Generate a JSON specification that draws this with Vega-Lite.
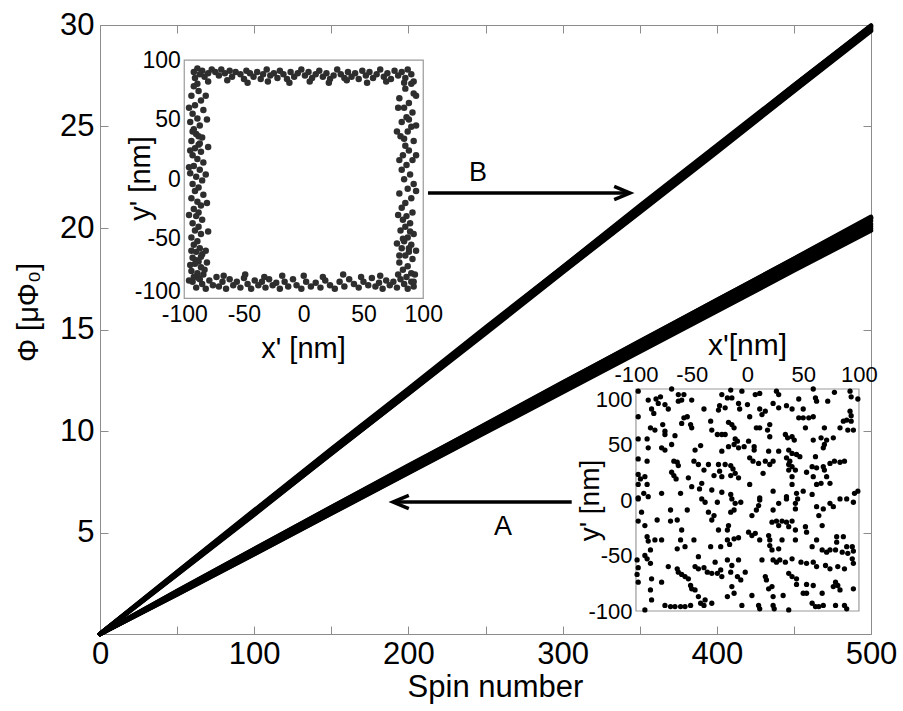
{
  "$schema": "https://vega.github.io/schema/vega-lite/v6.json",
  "width": 771,
  "height": 609,
  "autosize": {"type": "none"},
  "padding": {"left": 100, "top": 25, "right": 32, "bottom": 77},
  "background": "white",
  "config": {
    "font": "Liberation Sans",
    "view": {"stroke": "#8c8c8c", "strokeWidth": 1},
    "axis": {"labelColor": "black", "titleColor": "black", "titleFontWeight": "normal", "grid": false, "labelFont": "Liberation Sans", "titleFont": "Liberation Sans", "labelOverlap": false, "labelFlush": false}
  },
  "layer": [
    {
      "layer": [
        {
          "data": {"values": [
            {"g":"B1","s":0,"p":0},{"g":"B1","s":50,"p":3.04},{"g":"B1","s":100,"p":6.06},{"g":"B1","s":150,"p":9.07},{"g":"B1","s":200,"p":12.03},{"g":"B1","s":250,"p":15.04},{"g":"B1","s":300,"p":18.06},{"g":"B1","s":350,"p":21.03},{"g":"B1","s":400,"p":24.0},{"g":"B1","s":450,"p":27.02},{"g":"B1","s":500,"p":29.95},
            {"g":"B2","s":0,"p":0},{"g":"B2","s":50,"p":2.95},{"g":"B2","s":100,"p":5.91},{"g":"B2","s":150,"p":8.88},{"g":"B2","s":200,"p":11.85},{"g":"B2","s":250,"p":14.87},{"g":"B2","s":300,"p":17.84},{"g":"B2","s":350,"p":20.8},{"g":"B2","s":400,"p":23.8},{"g":"B2","s":450,"p":26.76},{"g":"B2","s":500,"p":29.76},
            {"g":"B3","s":0,"p":0},{"g":"B3","s":50,"p":3.01},{"g":"B3","s":100,"p":5.96},{"g":"B3","s":150,"p":9.0},{"g":"B3","s":200,"p":11.97},{"g":"B3","s":250,"p":14.99},{"g":"B3","s":300,"p":17.96},{"g":"B3","s":350,"p":20.92},{"g":"B3","s":400,"p":23.95},{"g":"B3","s":450,"p":26.93},{"g":"B3","s":500,"p":29.9},
            {"g":"B4","s":0,"p":0},{"g":"B4","s":50,"p":2.93},{"g":"B4","s":100,"p":5.88},{"g":"B4","s":150,"p":8.89},{"g":"B4","s":200,"p":11.84},{"g":"B4","s":250,"p":14.8},{"g":"B4","s":300,"p":17.81},{"g":"B4","s":350,"p":20.77},{"g":"B4","s":400,"p":23.73},{"g":"B4","s":450,"p":26.74},{"g":"B4","s":500,"p":29.7},
            {"g":"B5","s":0,"p":0},{"g":"B5","s":50,"p":3.06},{"g":"B5","s":100,"p":6.09},{"g":"B5","s":150,"p":9.11},{"g":"B5","s":200,"p":12.08},{"g":"B5","s":250,"p":15.1},{"g":"B5","s":300,"p":18.07},{"g":"B5","s":350,"p":21.09},{"g":"B5","s":400,"p":24.06},{"g":"B5","s":450,"p":27.03},{"g":"B5","s":500,"p":29.98},
            {"g":"B6","s":0,"p":0},{"g":"B6","s":50,"p":2.97},{"g":"B6","s":100,"p":6.01},{"g":"B6","s":150,"p":8.94},{"g":"B6","s":200,"p":11.91},{"g":"B6","s":250,"p":14.93},{"g":"B6","s":300,"p":17.88},{"g":"B6","s":350,"p":20.89},{"g":"B6","s":400,"p":23.85},{"g":"B6","s":450,"p":26.86},{"g":"B6","s":500,"p":29.82},
            {"g":"A1","s":0,"p":0},{"g":"A1","s":50,"p":2.12},{"g":"A1","s":100,"p":4.19},{"g":"A1","s":150,"p":6.24},{"g":"A1","s":200,"p":8.3},{"g":"A1","s":250,"p":10.31},{"g":"A1","s":300,"p":12.37},{"g":"A1","s":350,"p":14.42},{"g":"A1","s":400,"p":16.44},{"g":"A1","s":450,"p":18.49},{"g":"A1","s":500,"p":20.55},
            {"g":"A2","s":0,"p":0},{"g":"A2","s":50,"p":1.96},{"g":"A2","s":100,"p":3.94},{"g":"A2","s":150,"p":5.95},{"g":"A2","s":200,"p":7.96},{"g":"A2","s":250,"p":9.96},{"g":"A2","s":300,"p":11.97},{"g":"A2","s":350,"p":13.97},{"g":"A2","s":400,"p":15.98},{"g":"A2","s":450,"p":17.98},{"g":"A2","s":500,"p":19.97},
            {"g":"A3","s":0,"p":0},{"g":"A3","s":50,"p":2.08},{"g":"A3","s":100,"p":4.15},{"g":"A3","s":150,"p":6.15},{"g":"A3","s":200,"p":8.22},{"g":"A3","s":250,"p":10.28},{"g":"A3","s":300,"p":12.29},{"g":"A3","s":350,"p":14.36},{"g":"A3","s":400,"p":16.36},{"g":"A3","s":450,"p":18.43},{"g":"A3","s":500,"p":20.46},
            {"g":"A4","s":0,"p":0},{"g":"A4","s":50,"p":2.0},{"g":"A4","s":100,"p":4.0},{"g":"A4","s":150,"p":5.99},{"g":"A4","s":200,"p":8.04},{"g":"A4","s":250,"p":10.03},{"g":"A4","s":300,"p":12.03},{"g":"A4","s":350,"p":14.08},{"g":"A4","s":400,"p":16.07},{"g":"A4","s":450,"p":18.07},{"g":"A4","s":500,"p":20.08},
            {"g":"A5","s":0,"p":0},{"g":"A5","s":50,"p":2.05},{"g":"A5","s":100,"p":4.06},{"g":"A5","s":150,"p":6.13},{"g":"A5","s":200,"p":8.15},{"g":"A5","s":250,"p":10.22},{"g":"A5","s":300,"p":12.23},{"g":"A5","s":350,"p":14.3},{"g":"A5","s":400,"p":16.3},{"g":"A5","s":450,"p":18.35},{"g":"A5","s":500,"p":20.35},
            {"g":"A6","s":0,"p":0},{"g":"A6","s":50,"p":1.95},{"g":"A6","s":100,"p":3.93},{"g":"A6","s":150,"p":5.93},{"g":"A6","s":200,"p":7.93},{"g":"A6","s":250,"p":9.92},{"g":"A6","s":300,"p":11.91},{"g":"A6","s":350,"p":13.9},{"g":"A6","s":400,"p":15.9},{"g":"A6","s":450,"p":17.9},{"g":"A6","s":500,"p":19.88},
            {"g":"A7","s":0,"p":0},{"g":"A7","s":50,"p":2.11},{"g":"A7","s":100,"p":4.18},{"g":"A7","s":150,"p":6.25},{"g":"A7","s":200,"p":8.26},{"g":"A7","s":250,"p":10.33},{"g":"A7","s":300,"p":12.39},{"g":"A7","s":350,"p":14.4},{"g":"A7","s":400,"p":16.45},{"g":"A7","s":450,"p":18.47},{"g":"A7","s":500,"p":20.5},
            {"g":"A8","s":0,"p":0},{"g":"A8","s":50,"p":1.98},{"g":"A8","s":100,"p":4.04},{"g":"A8","s":150,"p":6.02},{"g":"A8","s":200,"p":8.01},{"g":"A8","s":250,"p":10.06},{"g":"A8","s":300,"p":12.12},{"g":"A8","s":350,"p":14.11},{"g":"A8","s":400,"p":16.16},{"g":"A8","s":450,"p":18.15},{"g":"A8","s":500,"p":20.2}
          ]},
          "mark": {"type": "line", "color": "black", "strokeWidth": 4.5, "strokeCap": "round"},
          "encoding": {
            "x": {"field": "s", "type": "quantitative", "scale": {"domain": [0, 500], "nice": false, "zero": false},
              "axis": {"orient": "bottom", "values": [0,50,100,150,200,250,300,350,400,450,500], "labelExpr": "datum.value % 100 === 0 ? datum.label : ''", "tickSize": -8, "tickColor": "#8c8c8c", "domain": false, "labelFontSize": 31, "labelPadding": 13, "title": "Spin number", "titleFontSize": 31, "titleX": 395, "titleY": 62, "titleBaseline": "alphabetic", "titleAlign": "center"}},
            "y": {"field": "p", "type": "quantitative", "scale": {"domain": [0, 30], "nice": false, "zero": false},
              "axis": {"orient": "left", "values": [0,5,10,15,20,25,30], "labelExpr": "datum.value === 0 ? '' : datum.label", "tickSize": -8, "tickColor": "#8c8c8c", "domain": false, "labelFontSize": 31, "labelPadding": 14, "title": "Φ [μΦ₀]", "titleFontSize": 29, "titleX": -72, "titleY": 287, "titleBaseline": "middle", "titleAlign": "center", "titleAngle": -90}},
            "detail": {"field": "g", "type": "nominal"}
          }
        },
        {
          "data": {"values": [
            {"label": "B", "xs": 212.7, "xe": 343.7, "ya": 21.72},
            {"label": "A", "xs": 305.9, "xe": 190.0, "ya": 6.5}
          ]},
          "mark": {"type": "rule", "color": "black", "strokeWidth": 3.5},
          "encoding": {
            "x": {"field": "xs", "type": "quantitative", "axis": {"orient": "top", "values": [0,50,100,150,200,250,300,350,400,450,500], "labels": false, "title": null, "tickSize": -8, "tickColor": "#8c8c8c", "domain": false}},
            "x2": {"field": "xe"},
            "y": {"field": "ya", "type": "quantitative", "axis": {"orient": "right", "values": [0,5,10,15,20,25,30], "labels": false, "title": null, "tickSize": -8, "tickColor": "#8c8c8c", "domain": false}}
          }
        },
        {
          "data": {"values": [
            {"label": "B", "xe": 343.7, "ya": 21.72},
            {"label": "A", "xe": 190.0, "ya": 6.5}
          ]},
          "mark": {"type": "point", "filled": false, "color": "black", "strokeWidth": 3.5, "size": 1000, "strokeJoin": "miter", "opacity": 1},
          "encoding": {
            "x": {"field": "xe", "type": "quantitative", "axis": null},
            "y": {"field": "ya", "type": "quantitative", "axis": null},
            "shape": {"field": "label", "type": "nominal", "scale": {"domain": ["A", "B"], "range": ["M1,-0.42L0,0L1,0.42", "M-1,-0.42L0,0L-1,0.42"]}, "legend": null}
          }
        },
        {
          "data": {"values": [
            {"label": "B", "lx": 245.1, "ly": 22.71},
            {"label": "A", "lx": 261.4, "ly": 5.29}
          ]},
          "mark": {"type": "text", "fontSize": 27, "align": "center", "baseline": "middle", "color": "black"},
          "encoding": {
            "x": {"field": "lx", "type": "quantitative", "axis": null},
            "y": {"field": "ly", "type": "quantitative", "axis": null},
            "text": {"field": "label"}
          }
        }
      ],
      "resolve": {"axis": {"x": "independent", "y": "independent"}}
    },
    {
      "layer": [
        {
          "data": {"values": [{}]},
          "mark": {"type": "rect", "fill": "white", "stroke": "#9a9a9a", "strokeWidth": 1.2},
          "encoding": {
            "x": {"datum": -100, "type": "quantitative", "scale": {"domain": [-170.5, 474.7], "nice": false, "zero": false},
              "axis": {"orient": "bottom", "offset": -335.7, "values": [-100,-50,0,50,100], "labelExpr": "'' + datum.value", "ticks": false, "domain": false, "labelFontSize": 23, "labelPadding": 5, "title": "x' [nm]", "titleFontSize": 29, "titleX": 203, "titleY": 50, "titleBaseline": "middle", "titleAlign": "center"}},
            "x2": {"datum": 100},
            "y": {"datum": -100, "type": "quantitative", "scale": {"domain": [-381.7, 129.4], "nice": false, "zero": false},
              "axis": {"orient": "left", "offset": -84.3, "values": [-100,-50,0,50,100], "labelExpr": "'' + datum.value", "labelBaseline": {"expr": "datum.value === -100 ? 'alphabetic' : 'middle'"}, "ticks": false, "domain": false, "labelFontSize": 23, "labelPadding": 4, "title": "y' [nm]", "titleFontSize": 29, "titleX": -44, "titleY": 153, "titleBaseline": "middle", "titleAlign": "center", "titleAngle": -90}},
            "y2": {"datum": 100}
          }
        },
        {
          "data": {"values": [
            {"x":-92,"y":90},{"x":-91,"y":85},{"x":-89,"y":93},{"x":-87,"y":88},{"x":-85,"y":91},{"x":-83,"y":86},{"x":-80,"y":89},{"x":-77,"y":92},{"x":-74,"y":90},{"x":-71,"y":87},{"x":-69,"y":92},{"x":-66,"y":89},{"x":-62,"y":91},{"x":-60,"y":86},{"x":-57,"y":90},{"x":-53,"y":88},{"x":-50,"y":84},{"x":-48,"y":91},{"x":-45,"y":89},{"x":-42,"y":86},{"x":-39,"y":90},{"x":-36,"y":84},{"x":-34,"y":88},{"x":-31,"y":92},{"x":-28,"y":87},{"x":-25,"y":89},{"x":-22,"y":85},{"x":-20,"y":91},{"x":-17,"y":88},{"x":-14,"y":84},{"x":-11,"y":90},{"x":-8,"y":86},{"x":-5,"y":89},{"x":-2,"y":92},{"x":1,"y":87},{"x":4,"y":90},{"x":7,"y":85},{"x":10,"y":88},{"x":13,"y":91},{"x":16,"y":86},{"x":19,"y":89},{"x":22,"y":84},{"x":25,"y":87},{"x":28,"y":92},{"x":31,"y":88},{"x":34,"y":85},{"x":37,"y":90},{"x":40,"y":86},{"x":43,"y":89},{"x":46,"y":84},{"x":49,"y":91},{"x":52,"y":87},{"x":55,"y":90},{"x":58,"y":85},{"x":61,"y":88},{"x":64,"y":92},{"x":67,"y":86},{"x":70,"y":89},{"x":73,"y":84},{"x":76,"y":91},{"x":79,"y":87},{"x":82,"y":90},{"x":85,"y":85},{"x":87,"y":92},{"x":90,"y":88},{"x":92,"y":82},
            {"x":-80,"y":82},{"x":-64,"y":83},{"x":-47,"y":81},{"x":-30,"y":82},{"x":-12,"y":81},{"x":5,"y":82},{"x":21,"y":81},{"x":36,"y":83},{"x":53,"y":81},{"x":69,"y":82},{"x":84,"y":81},{"x":-89,"y":80},
            {"x":-93,"y":-86},{"x":-90,"y":-91},{"x":-88,"y":-83},{"x":-85,"y":-88},{"x":-82,"y":-92},{"x":-79,"y":-85},{"x":-76,"y":-89},{"x":-73,"y":-82},{"x":-71,"y":-90},{"x":-68,"y":-86},{"x":-65,"y":-92},{"x":-62,"y":-84},{"x":-59,"y":-89},{"x":-56,"y":-86},{"x":-53,"y":-91},{"x":-50,"y":-83},{"x":-47,"y":-88},{"x":-44,"y":-92},{"x":-41,"y":-85},{"x":-38,"y":-89},{"x":-35,"y":-86},{"x":-32,"y":-91},{"x":-29,"y":-84},{"x":-26,"y":-89},{"x":-23,"y":-87},{"x":-20,"y":-92},{"x":-16,"y":-86},{"x":-13,"y":-90},{"x":-9,"y":-84},{"x":-6,"y":-89},{"x":-2,"y":-92},{"x":2,"y":-86},{"x":6,"y":-90},{"x":10,"y":-87},{"x":14,"y":-91},{"x":18,"y":-85},{"x":22,"y":-89},{"x":26,"y":-92},{"x":30,"y":-86},{"x":34,"y":-90},{"x":38,"y":-84},{"x":42,"y":-88},{"x":46,"y":-91},{"x":50,"y":-86},{"x":54,"y":-89},{"x":57,"y":-83},{"x":60,"y":-90},{"x":63,"y":-87},{"x":66,"y":-92},{"x":69,"y":-85},{"x":72,"y":-89},{"x":75,"y":-86},{"x":78,"y":-91},{"x":81,"y":-84},{"x":84,"y":-88},{"x":87,"y":-92},{"x":90,"y":-86},{"x":92,"y":-90},
            {"x":-84,"y":-80},{"x":-67,"y":-81},{"x":-49,"y":-80},{"x":-33,"y":-82},{"x":-18,"y":-81},{"x":0,"y":-81},{"x":16,"y":-82},{"x":33,"y":-80},{"x":48,"y":-82},{"x":64,"y":-81},{"x":79,"y":-80},
            {"x":-92,"y":78},{"x":-88,"y":74},{"x":-94,"y":70},{"x":-86,"y":66},{"x":-91,"y":62},{"x":-84,"y":58},{"x":-93,"y":55},{"x":-89,"y":51},{"x":-95,"y":48},{"x":-87,"y":45},{"x":-92,"y":42},{"x":-90,"y":38},{"x":-85,"y":35},{"x":-94,"y":32},{"x":-88,"y":29},{"x":-91,"y":26},{"x":-86,"y":23},{"x":-93,"y":20},{"x":-89,"y":17},{"x":-84,"y":14},{"x":-92,"y":11},{"x":-87,"y":8},{"x":-95,"y":5},{"x":-90,"y":2},{"x":-85,"y":-1},{"x":-93,"y":-4},{"x":-88,"y":-7},{"x":-91,"y":-10},{"x":-84,"y":-13},{"x":-94,"y":-16},{"x":-89,"y":-19},{"x":-86,"y":-22},{"x":-92,"y":-25},{"x":-88,"y":-28},{"x":-90,"y":-31},{"x":-85,"y":-34},{"x":-93,"y":-37},{"x":-88,"y":-40},{"x":-91,"y":-43},{"x":-86,"y":-46},{"x":-94,"y":-49},{"x":-89,"y":-52},{"x":-92,"y":-55},{"x":-87,"y":-58},{"x":-90,"y":-61},{"x":-85,"y":-63},{"x":-93,"y":-66},{"x":-88,"y":-69},{"x":-91,"y":-71},{"x":-86,"y":-74},{"x":-94,"y":-77},{"x":-89,"y":-79},{"x":-83,"y":-76},{"x":-92,"y":-82},{"x":-87,"y":-84},{"x":-93,"y":40},{"x":-87,"y":30},{"x":-95,"y":24},{"x":-88,"y":36},{"x":-94,"y":-60},{"x":-90,"y":-68},{"x":-86,"y":-65},{"x":-95,"y":-72},
            {"x":-82,"y":70},{"x":-81,"y":50},{"x":-80,"y":27},{"x":-82,"y":4},{"x":-81,"y":-20},{"x":-80,"y":-44},{"x":-82,"y":-60},{"x":-81,"y":-70},{"x":-96,"y":60},{"x":-96,"y":-30},{"x":-96,"y":10},{"x":-96,"y":-85},
            {"x":90,"y":80},{"x":85,"y":76},{"x":92,"y":72},{"x":80,"y":68},{"x":88,"y":64},{"x":84,"y":60},{"x":91,"y":56},{"x":86,"y":52},{"x":82,"y":48},{"x":90,"y":44},{"x":87,"y":40},{"x":81,"y":36},{"x":92,"y":32},{"x":85,"y":28},{"x":88,"y":24},{"x":83,"y":20},{"x":91,"y":16},{"x":86,"y":12},{"x":82,"y":8},{"x":89,"y":4},{"x":84,"y":0},{"x":92,"y":-4},{"x":87,"y":-8},{"x":80,"y":-12},{"x":90,"y":-16},{"x":85,"y":-20},{"x":82,"y":-24},{"x":91,"y":-28},{"x":86,"y":-31},{"x":83,"y":-34},{"x":89,"y":-37},{"x":85,"y":-40},{"x":81,"y":-43},{"x":92,"y":-46},{"x":87,"y":-49},{"x":84,"y":-52},{"x":90,"y":-55},{"x":82,"y":-58},{"x":88,"y":-61},{"x":85,"y":-64},{"x":91,"y":-67},{"x":80,"y":-70},{"x":87,"y":-73},{"x":83,"y":-76},{"x":90,"y":-79},{"x":86,"y":-82},{"x":92,"y":-86},{"x":88,"y":50},{"x":84,"y":34},{"x":89,"y":-44},{"x":83,"y":-50},{"x":88,"y":-58},
            {"x":79,"y":60},{"x":78,"y":40},{"x":80,"y":16},{"x":79,"y":-30},{"x":78,"y":-54},{"x":80,"y":-64},{"x":94,"y":70},{"x":94,"y":20},{"x":94,"y":-10},{"x":94,"y":-60},{"x":93,"y":-80},{"x":94,"y":45}
          ]},
          "mark": {"type": "circle", "size": 42, "color": "#2e2e2e", "opacity": 1},
          "encoding": {
            "x": {"field": "x", "type": "quantitative", "scale": {"domain": [-170.5, 474.7], "nice": false, "zero": false}, "axis": null},
            "y": {"field": "y", "type": "quantitative", "scale": {"domain": [-381.7, 129.4], "nice": false, "zero": false}, "axis": null}
          }
        }
      ],
      "resolve": {"axis": {"x": "independent", "y": "independent"}}
    },
    {
      "layer": [
        {
          "data": {"values": [{}]},
          "mark": {"type": "rect", "fill": "white", "stroke": "#9a9a9a", "strokeWidth": 1.2},
          "encoding": {
            "x": {"datum": -100, "type": "quantitative", "scale": {"domain": [-580.7, 110.8], "nice": false, "zero": false},
              "axis": {"orient": "top", "offset": -364, "values": [-100,-50,0,50,100], "labelExpr": "'' + datum.value", "ticks": false, "domain": false, "labelFontSize": 22, "labelPadding": 3, "title": "x'[nm]", "titleFontSize": 30, "titleX": 647, "titleY": -44, "titleBaseline": "middle", "titleAlign": "center"}},
            "x2": {"datum": 100},
            "y": {"datum": -100, "type": "quantitative", "scale": {"domain": [-120.7, 427.9], "nice": false, "zero": false},
              "axis": {"orient": "left", "offset": -536, "values": [-100,-50,0,50,100], "labelExpr": "'' + datum.value", "labelBaseline": {"expr": "datum.value === 100 ? 'top' : 'middle'"}, "ticks": false, "domain": false, "labelFontSize": 22, "labelPadding": 4, "title": "y' [nm]", "titleFontSize": 28, "titleX": -46, "titleY": 475, "titleBaseline": "middle", "titleAlign": "center", "titleAngle": -90}},
            "y2": {"datum": 100}
          }
        },
        {
          "data": {"values": [
            {"x":-98,"y":98},{"x":-68,"y":100},{"x":-89,"y":90},{"x":-82,"y":91},{"x":-78,"y":93},{"x":-80,"y":87},{"x":-62,"y":95},{"x":-57,"y":95},{"x":-59,"y":90},{"x":-62,"y":89},{"x":-50,"y":90},{"x":-74,"y":86},{"x":-71,"y":82},{"x":-86,"y":82},{"x":-84,"y":78},{"x":-23,"y":95},{"x":-18,"y":92},{"x":-14,"y":92},{"x":-15,"y":99},{"x":-5,"y":98},{"x":-25,"y":85},{"x":-26,"y":81},{"x":-20,"y":83},{"x":-8,"y":87},{"x":-7,"y":82},{"x":0,"y":86},{"x":-39,"y":82},{"x":-98,"y":75},{"x":-54,"y":75},{"x":-57,"y":74},{"x":-59,"y":69},{"x":-51,"y":68},{"x":-50,"y":65},{"x":-76,"y":68},{"x":-87,"y":65},{"x":-83,"y":63},{"x":-74,"y":62},{"x":-74,"y":59},{"x":-33,"y":71},{"x":-32,"y":63},{"x":-17,"y":70},{"x":-14,"y":68},{"x":-12,"y":65},{"x":-27,"y":59},{"x":-23,"y":59},{"x":-20,"y":59},{"x":-65,"y":58},{"x":-98,"y":55},{"x":-90,"y":55},{"x":-11,"y":55},{"x":-9,"y":53},{"x":-68,"y":50},{"x":-89,"y":47},{"x":-77,"y":47},{"x":-74,"y":45},{"x":-47,"y":45},{"x":-42,"y":49},{"x":-23,"y":44},{"x":-17,"y":48},{"x":-12,"y":50},{"x":-8,"y":47},{"x":-3,"y":48},{"x":-98,"y":37},{"x":-90,"y":35},{"x":-66,"y":35},{"x":-63,"y":34},{"x":-62,"y":31},{"x":-48,"y":35},{"x":-44,"y":32},{"x":-39,"y":27},{"x":-35,"y":32},{"x":-26,"y":32},{"x":-25,"y":26},{"x":-20,"y":32},{"x":-15,"y":31},{"x":-13,"y":28},{"x":-68,"y":25},{"x":-66,"y":22},{"x":-64,"y":19},{"x":-98,"y":23},{"x":-96,"y":19},{"x":-92,"y":21},{"x":-30,"y":22},{"x":-23,"y":21},{"x":-15,"y":22},{"x":-11,"y":24},{"x":-8,"y":20},{"x":-53,"y":20},{"x":-98,"y":14},{"x":-90,"y":14},{"x":-50,"y":12},{"x":-41,"y":15},{"x":-43,"y":10},{"x":-32,"y":9},{"x":-23,"y":7},{"x":-15,"y":5},{"x":-93,"y":6},{"x":-89,"y":3},{"x":-77,"y":6},{"x":-60,"y":6},{"x":-98,"y":2},
            {"x":7,"y":95},{"x":11,"y":96},{"x":26,"y":98},{"x":28,"y":95},{"x":46,"y":91},{"x":59,"y":100},{"x":61,"y":92},{"x":62,"y":89},{"x":78,"y":97},{"x":92,"y":98},{"x":93,"y":93},{"x":99,"y":91},{"x":23,"y":87},{"x":11,"y":82},{"x":16,"y":80},{"x":2,"y":75},{"x":13,"y":77},{"x":28,"y":83},{"x":35,"y":85},{"x":40,"y":82},{"x":50,"y":82},{"x":46,"y":74},{"x":50,"y":74},{"x":55,"y":74},{"x":59,"y":75},{"x":72,"y":89},{"x":92,"y":80},{"x":93,"y":76},{"x":89,"y":72},{"x":86,"y":71},{"x":93,"y":71},{"x":8,"y":65},{"x":11,"y":65},{"x":20,"y":68},{"x":18,"y":63},{"x":52,"y":65},{"x":69,"y":65},{"x":83,"y":65},{"x":90,"y":63},{"x":95,"y":63},{"x":20,"y":57},{"x":34,"y":59},{"x":36,"y":56},{"x":40,"y":57},{"x":42,"y":54},{"x":59,"y":54},{"x":66,"y":56},{"x":71,"y":54},{"x":77,"y":56},{"x":69,"y":50},{"x":68,"y":47},{"x":1,"y":53},{"x":6,"y":48},{"x":6,"y":45},{"x":19,"y":44},{"x":28,"y":44},{"x":37,"y":45},{"x":40,"y":42},{"x":44,"y":41},{"x":47,"y":39},{"x":2,"y":38},{"x":5,"y":35},{"x":10,"y":33},{"x":16,"y":35},{"x":23,"y":35},{"x":20,"y":32},{"x":35,"y":38},{"x":38,"y":35},{"x":37,"y":32},{"x":40,"y":30},{"x":43,"y":27},{"x":61,"y":39},{"x":74,"y":33},{"x":78,"y":35},{"x":83,"y":34},{"x":87,"y":35},{"x":58,"y":30},{"x":62,"y":29},{"x":68,"y":30},{"x":69,"y":27},{"x":14,"y":24},{"x":37,"y":27},{"x":40,"y":21},{"x":53,"y":25},{"x":59,"y":21},{"x":71,"y":21},{"x":2,"y":14},{"x":40,"y":14},{"x":62,"y":14},{"x":66,"y":15},{"x":74,"y":15},{"x":23,"y":8},{"x":35,"y":3},{"x":44,"y":6},{"x":50,"y":8},{"x":58,"y":5},{"x":96,"y":6},{"x":99,"y":8},{"x":11,"y":2},{"x":45,"y":1},
            {"x":-98,"y":1},{"x":-41,"y":1},{"x":-38,"y":-2},{"x":-27,"y":-2},{"x":-14,"y":1},{"x":-11,"y":-3},{"x":-6,"y":-2},{"x":-95,"y":-11},{"x":-69,"y":-9},{"x":-54,"y":-9},{"x":-35,"y":-11},{"x":-30,"y":-14},{"x":-15,"y":-11},{"x":-12,"y":-9},{"x":-98,"y":-19},{"x":-81,"y":-18},{"x":-69,"y":-19},{"x":-63,"y":-18},{"x":-32,"y":-18},{"x":-92,"y":-23},{"x":-59,"y":-27},{"x":-26,"y":-27},{"x":-18,"y":-27},{"x":-17,"y":-23},{"x":-90,"y":-33},{"x":-89,"y":-37},{"x":-83,"y":-36},{"x":-77,"y":-36},{"x":-60,"y":-36},{"x":-48,"y":-36},{"x":-63,"y":-44},{"x":-56,"y":-42},{"x":-33,"y":-42},{"x":-24,"y":-42},{"x":-18,"y":-36},{"x":-16,"y":-40},{"x":-12,"y":-35},{"x":-8,"y":-34},{"x":-87,"y":-45},{"x":-99,"y":-54},{"x":-98,"y":-61},{"x":-92,"y":-50},{"x":-90,"y":-53},{"x":-87,"y":-57},{"x":-71,"y":-60},{"x":-63,"y":-62},{"x":-62,"y":-65},{"x":-59,"y":-67},{"x":-56,"y":-69},{"x":-53,"y":-71},{"x":-44,"y":-51},{"x":-47,"y":-60},{"x":-44,"y":-62},{"x":-39,"y":-61},{"x":-36,"y":-65},{"x":-32,"y":-66},{"x":-27,"y":-66},{"x":-24,"y":-63},{"x":-23,"y":-69},{"x":-29,"y":-56},{"x":-18,"y":-54},{"x":-14,"y":-59},{"x":-8,"y":-54},{"x":-99,"y":-67},{"x":-98,"y":-74},{"x":-86,"y":-71},{"x":-77,"y":-74},{"x":-87,"y":-81},{"x":-51,"y":-77},{"x":-50,"y":-80},{"x":-47,"y":-81},{"x":-44,"y":-87},{"x":-42,"y":-93},{"x":-39,"y":-95},{"x":-38,"y":-90},{"x":-32,"y":-93},{"x":-15,"y":-65},{"x":-9,"y":-69},{"x":-6,"y":-72},{"x":-14,"y":-78},{"x":-86,"y":-90},{"x":-74,"y":-95},{"x":-69,"y":-96},{"x":-65,"y":-96},{"x":-60,"y":-96},{"x":-56,"y":-96},{"x":-51,"y":-95},{"x":-18,"y":-87},{"x":-12,"y":-84},{"x":-5,"y":-95},{"x":-92,"y":-99},
            {"x":11,"y":0},{"x":10,"y":-5},{"x":8,"y":-9},{"x":28,"y":-3},{"x":35,"y":1},{"x":43,"y":-3},{"x":43,"y":-8},{"x":62,"y":-6},{"x":68,"y":-8},{"x":74,"y":-3},{"x":77,"y":-6},{"x":83,"y":1},{"x":89,"y":1},{"x":95,"y":-2},{"x":4,"y":-14},{"x":23,"y":-9},{"x":64,"y":-14},{"x":22,"y":-20},{"x":26,"y":-19},{"x":31,"y":-19},{"x":35,"y":-20},{"x":40,"y":-19},{"x":28,"y":-23},{"x":37,"y":-24},{"x":43,"y":-27},{"x":52,"y":-24},{"x":53,"y":-29},{"x":67,"y":-23},{"x":1,"y":-29},{"x":4,"y":-32},{"x":7,"y":-30},{"x":11,"y":-36},{"x":19,"y":-32},{"x":20,"y":-36},{"x":31,"y":-36},{"x":43,"y":-36},{"x":62,"y":-36},{"x":80,"y":-33},{"x":86,"y":-33},{"x":80,"y":-38},{"x":89,"y":-42},{"x":94,"y":-42},{"x":95,"y":-46},{"x":20,"y":-41},{"x":22,"y":-45},{"x":28,"y":-44},{"x":58,"y":-42},{"x":67,"y":-45},{"x":71,"y":-47},{"x":74,"y":-45},{"x":79,"y":-45},{"x":85,"y":-47},{"x":90,"y":-48},{"x":94,"y":-53},{"x":13,"y":-54},{"x":23,"y":-54},{"x":26,"y":-56},{"x":29,"y":-54},{"x":34,"y":-56},{"x":40,"y":-53},{"x":48,"y":-56},{"x":53,"y":-57},{"x":59,"y":-56},{"x":62,"y":-60},{"x":70,"y":-59},{"x":74,"y":-62},{"x":81,"y":-60},{"x":87,"y":-62},{"x":95,"y":-57},{"x":-2,"y":-65},{"x":16,"y":-69},{"x":17,"y":-72},{"x":22,"y":-78},{"x":19,"y":-80},{"x":37,"y":-66},{"x":40,"y":-69},{"x":44,"y":-71},{"x":44,"y":-76},{"x":53,"y":-76},{"x":59,"y":-77},{"x":79,"y":-74},{"x":81,"y":-77},{"x":83,"y":-81},{"x":77,"y":-78},{"x":4,"y":-86},{"x":23,"y":-87},{"x":32,"y":-86},{"x":50,"y":-84},{"x":53,"y":-84},{"x":67,"y":-84},{"x":95,"y":-80},{"x":10,"y":-95},{"x":11,"y":-98},{"x":23,"y":-95},{"x":24,"y":-98},{"x":37,"y":-99},{"x":58,"y":-93},{"x":61,"y":-96},{"x":64,"y":-96},{"x":68,"y":-95},{"x":79,"y":-95},{"x":87,"y":-95},{"x":89,"y":-98}
          ]},
          "mark": {"type": "circle", "size": 28, "color": "black", "opacity": 1},
          "encoding": {
            "x": {"field": "x", "type": "quantitative", "scale": {"domain": [-580.7, 110.8], "nice": false, "zero": false}, "axis": null},
            "y": {"field": "y", "type": "quantitative", "scale": {"domain": [-120.7, 427.9], "nice": false, "zero": false}, "axis": null}
          }
        }
      ],
      "resolve": {"axis": {"x": "independent", "y": "independent"}}
    }
  ],
  "resolve": {"scale": {"x": "independent", "y": "independent"}}
}
